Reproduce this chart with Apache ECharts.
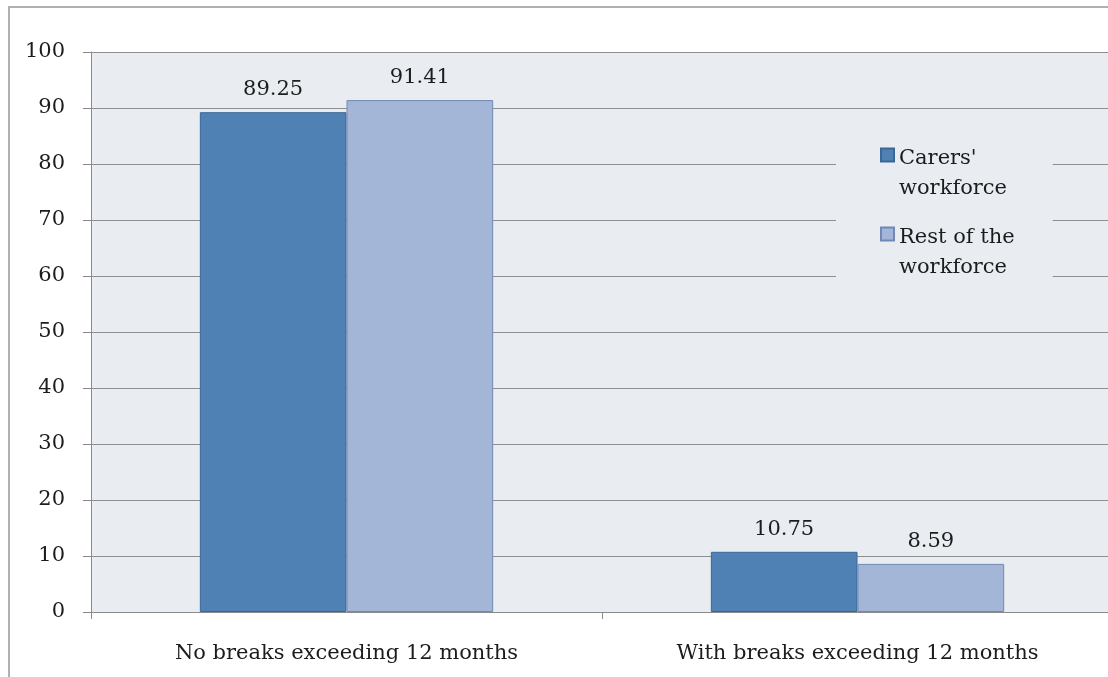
<!DOCTYPE html>
<html><head><meta charset="utf-8">
<script src="https://cdn.jsdelivr.net/npm/echarts@6/dist/echarts.min.js"></script>
<style>html,body{margin:0;padding:0;background:#fff;overflow:hidden}#c{width:1108px;height:677px}</style>
</head><body><div id="c"></div>
<script>
const categories = ['No breaks exceeding 12 months', 'With breaks exceeding 12 months'];
const seriesNames = ["Carers'\nworkforce", 'Rest of the\nworkforce'];
const carers = [89.25, 10.75];
const rest = [91.41, 8.59];
const yTicks = [0, 10, 20, 30, 40, 50, 60, 70, 80, 90, 100];

const FONT = 'DejaVu Serif';
const chart = echarts.init(document.getElementById('c'));
const iconPath = 'path://M0,0H13V13H0Z M0,51h0.01';
chart.setOption({
  animation: false,
  backgroundColor: '#fff',
  graphic: [{type: 'polyline', shape: {points: [[9, 690], [9, 7], [1120, 7]]},
    style: {fill: 'none', stroke: '#b0b0b0', lineWidth: 2}, z: 0}],
  grid: {left: 91, top: 52, height: 560, width: 1022, outerBoundsMode: 'none', containLabel: false,
    show: true, backgroundColor: '#E9EDF2', borderWidth: 0},
  legend: {
    orient: 'vertical', left: 836, top: 132, padding: [12, 38, 12, 44],
    backgroundColor: '#E9EDF2', itemWidth: 13, itemHeight: 51, itemGap: 19,
    icon: iconPath,
    textStyle: {fontFamily: FONT, fontSize: 21, color: '#1c1c1c', lineHeight: 30},
    data: seriesNames
  },
  xAxis: {
    type: 'category', data: categories,
    axisLine: {lineStyle: {color: '#8a8a8a', width: 1}},
    axisTick: {show: true, length: 7, lineStyle: {color: '#8a8a8a'}},
    axisLabel: {fontFamily: FONT, fontSize: 21, color: '#1c1c1c', margin: 31}
  },
  yAxis: {
    type: 'value', min: 0, max: 100, interval: 10,
    axisLine: {show: true, lineStyle: {color: '#8a8a8a', width: 1}},
    axisTick: {show: true, length: 8, lineStyle: {color: '#8a8a8a'}},
    splitLine: {lineStyle: {color: '#8e8e8e', width: 1}},
    axisLabel: {fontFamily: FONT, fontSize: 21, color: '#1c1c1c', margin: 26,
      formatter: v => yTicks.includes(v) ? String(v) : ''}
  },
  series: [
    {name: seriesNames[0], type: 'bar', data: carers, barGap: '0%', barCategoryGap: '42.6%',
     itemStyle: {color: '#4F81B5', borderColor: '#3A6796', borderWidth: 1},
     label: {show: true, position: 'top', distance: 12, fontFamily: FONT, fontSize: 21, color: '#1c1c1c',
       formatter: p => p.value.toFixed(2)}},
    {name: seriesNames[1], type: 'bar', data: rest,
     itemStyle: {color: '#A3B6D8', borderColor: '#7288B4', borderWidth: 1},
     label: {show: true, position: 'top', distance: 12, fontFamily: FONT, fontSize: 21, color: '#1c1c1c',
       formatter: p => p.value.toFixed(2)}}
  ]
});
</script></body></html>
